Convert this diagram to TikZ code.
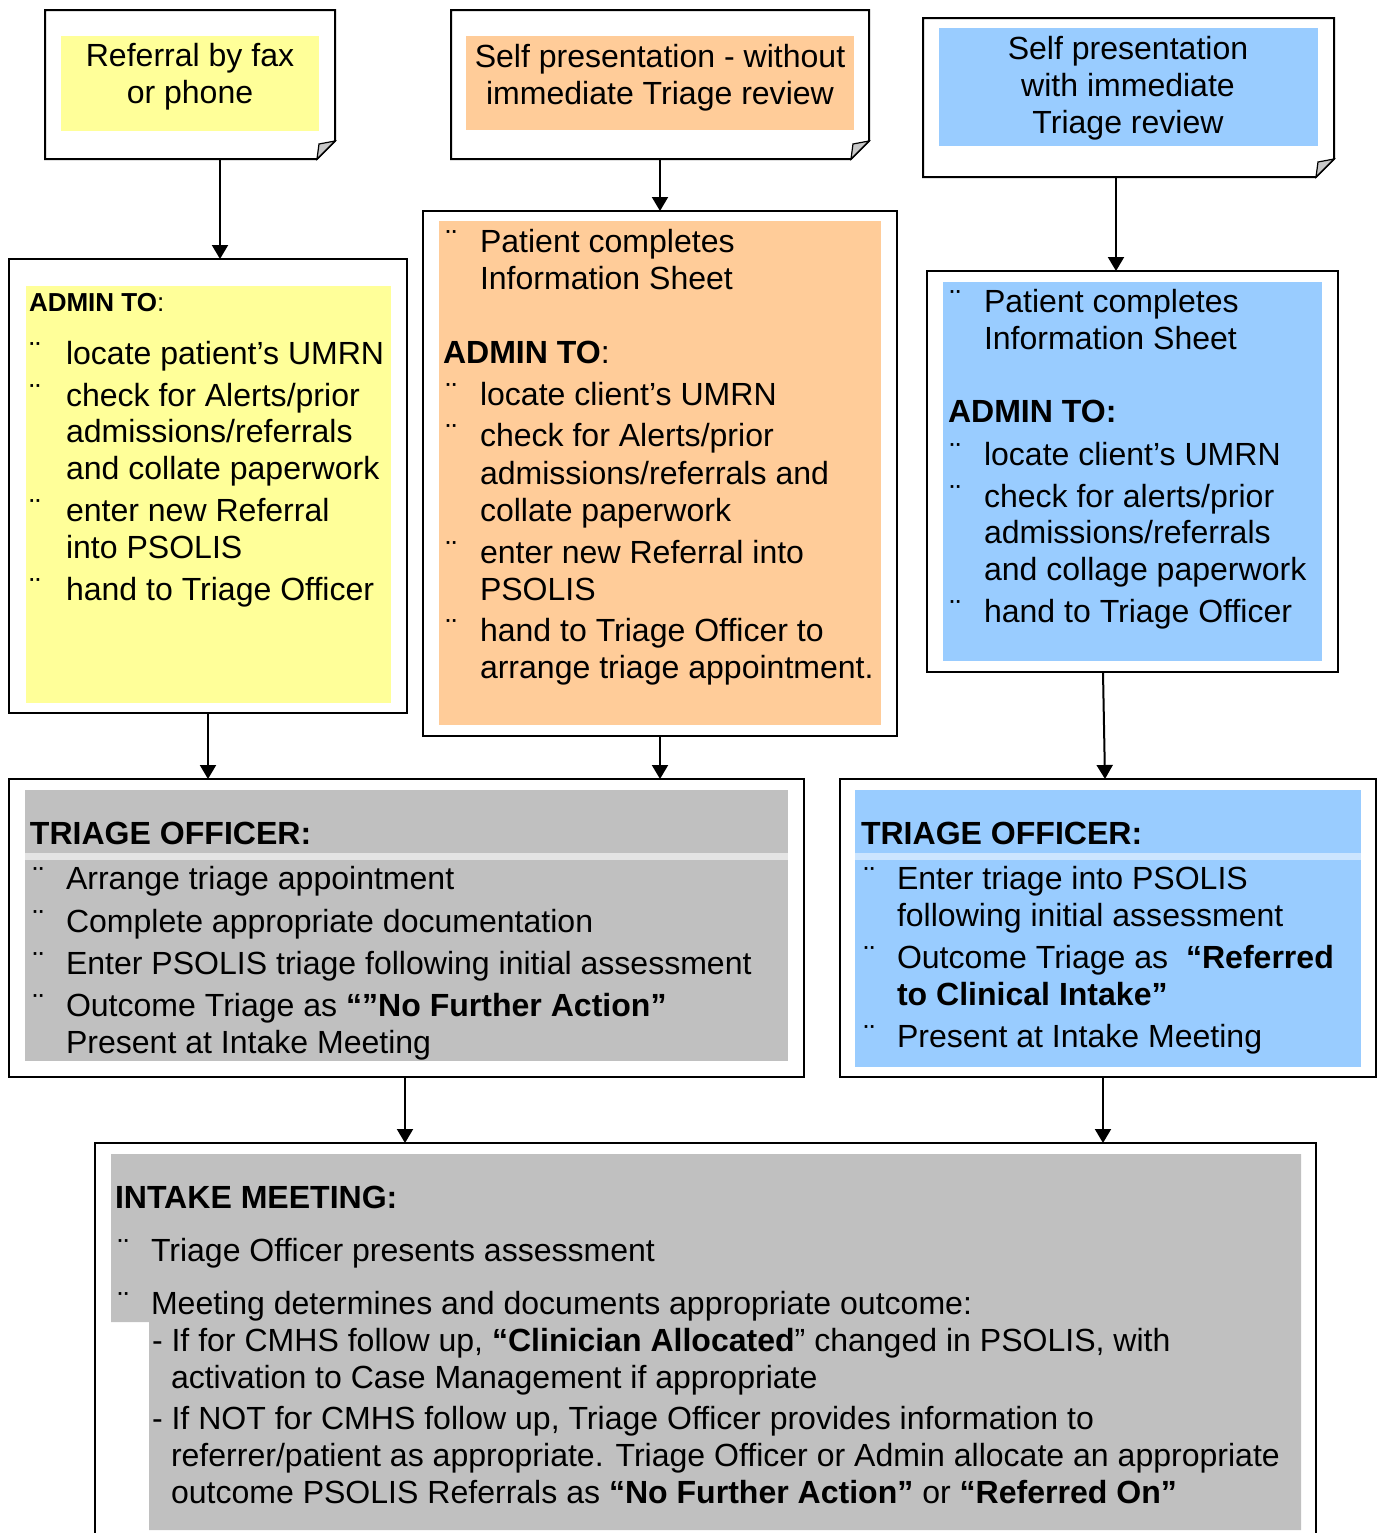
\documentclass[tikz,border=0pt]{standalone}
\usepackage{fontspec}
\setmainfont{Liberation Sans}
\usetikzlibrary{arrows.meta,fit}
\definecolor{yel}{HTML}{FFFF99}
\definecolor{ora}{HTML}{FFCC99}
\definecolor{blu}{HTML}{99CCFF}
\definecolor{gry}{HTML}{C0C0C0}
\definecolor{gryl}{HTML}{E4E4E4}
\definecolor{blul}{HTML}{CCE5FF}
\definecolor{foldg}{HTML}{C8C8C8}
\newcommand\txtline[4]{\node[txt] (#1) at (#2,#3) {#4};}
\newcommand\ctrline[4]{\node[ctr] (#1) at (#2,#3) {#4};}
\newcommand\bull[3]{\node[txt] (#1) at (#2,#3) {¨};}
\begin{document}
\begin{tikzpicture}[x=0.5pt,y=-0.5pt,
  txt/.style={inner sep=0pt, outer sep=0pt, anchor=base west, font=\fontsize{16.02}{18.4}\selectfont},
  ctr/.style={txt, anchor=base},
  smallbold/.style={txt, font=\fontsize{13}{15}\selectfont},
  box/.style={draw, line width=1pt, inner sep=0pt, outer sep=0pt},
  docbox/.style={inner sep=0pt, outer sep=0pt},
  arr/.style={line width=1pt, -{Triangle[length=7pt,width=8pt]}}]
\useasboundingbox (0,0) rectangle (1383,1533);
\clip (0,0) rectangle (1383,1533);
\fill[white] (0,0) rectangle (1383,1533);

% ---------- fills ----------
\fill[yel] (61,36) rectangle (319,131);
\fill[ora] (466,36) rectangle (854,130);
\fill[blu] (939,28) rectangle (1318,146);
\fill[yel] (26,286) rectangle (391,703);
\fill[ora] (439,221) rectangle (881,725);
\fill[blu] (943,282) rectangle (1322,661);
\fill[gry] (25,790) rectangle (788,1061);
\fill[gryl] (25,853) rectangle (788,860);
\fill[blu] (855,790) rectangle (1361,1067);
\fill[blul] (855,853) rectangle (1361,860);
\fill[gry] (111,1154) -- (1301,1154) -- (1301,1530) -- (149,1530) -- (149,1322) -- (111,1322) -- cycle;

% ---------- document boxes ----------
\node[docbox, fit={(45,10) (335,159)}] (d1) {};
\node[docbox, fit={(451,10) (869,159)}] (d2) {};
\node[docbox, fit={(923,18) (1334,177)}] (d3) {};
\foreach \d in {d1,d2,d3}{
  \draw[line width=1pt] (\d.north west) -- (\d.north east) -- ([yshift=9pt]\d.south east)
    -- ([xshift=-9pt]\d.south east) -- (\d.south west) -- cycle;
  \filldraw[fill=foldg, line width=0.6pt] ([xshift=-9pt]\d.south east) -- ([yshift=9pt]\d.south east)
    -- ([xshift=-8pt,yshift=7.5pt]\d.south east) -- cycle;
}

% ---------- boxes ----------
\node[box, fit={(9,259) (407,713)}] (a1) {};
\node[box, fit={(423,211) (897,736)}] (a2) {};
\node[box, fit={(927,271) (1338,672)}] (a3) {};
\node[box, fit={(9,779) (804,1077)}] (tL) {};
\node[box, fit={(840,779) (1376,1077)}] (tR) {};
\node[box, fit={(95,1143) (1316,1600)}] (im) {};

% ---------- titles ----------
\ctrline{d1a}{190}{66}{Referral by fax}
\ctrline{d1b}{190}{103}{or phone}
\ctrline{d2a}{660}{67}{Self presentation - without}
\ctrline{d2b}{660}{104}{immediate Triage review}
\ctrline{d3a}{1128}{59}{Self presentation}
\ctrline{d3b}{1128}{96}{with immediate}
\ctrline{d3c}{1128}{133}{Triage review}

% ---------- admin 1 ----------
\node[smallbold] (a1h) at (29,311) {\textbf{ADMIN TO}:};
\bull{a1b1}{30}{364}
\bull{a1b2}{30}{406}
\bull{a1b3}{30}{521}
\bull{a1b4}{30}{600}
\txtline{a1t1}{66}{364}{locate patient’s UMRN}
\txtline{a1t2}{66}{406}{check for Alerts/prior}
\txtline{a1t3}{66}{442}{admissions/referrals}
\txtline{a1t4}{66}{479}{and collate paperwork}
\txtline{a1t5}{66}{521}{enter new Referral}
\txtline{a1t6}{66}{558}{into PSOLIS}
\txtline{a1t7}{66}{600}{hand to Triage Officer}

% ---------- admin 2 ----------
\bull{a2b1}{446}{252}
\bull{a2b2}{446}{405}
\bull{a2b3}{446}{446}
\bull{a2b4}{446}{563}
\bull{a2b5}{446}{641}
\txtline{a2t1}{480}{252}{Patient completes}
\txtline{a2t2}{480}{289}{Information Sheet}
\txtline{a2h}{443}{363}{\textbf{ADMIN TO}:}
\txtline{a2t3}{480}{405}{locate client’s UMRN}
\txtline{a2t4}{480}{446}{check for Alerts/prior}
\txtline{a2t5}{480}{484}{admissions/referrals and}
\txtline{a2t6}{480}{521}{collate paperwork}
\txtline{a2t7}{480}{563}{enter new Referral into}
\txtline{a2t8}{480}{600}{PSOLIS}
\txtline{a2t9}{480}{641}{hand to Triage Officer to}
\txtline{a2t10}{480}{678}{arrange triage appointment.}

% ---------- admin 3 ----------
\bull{a3b1}{950}{312}
\bull{a3b2}{950}{465}
\bull{a3b3}{950}{507}
\bull{a3b4}{950}{622}
\txtline{a3t1}{984}{312}{Patient completes}
\txtline{a3t2}{984}{349}{Information Sheet}
\txtline{a3h}{948}{422}{\textbf{ADMIN TO:}}
\txtline{a3t3}{984}{465}{locate client’s UMRN}
\txtline{a3t4}{984}{507}{check for alerts/prior}
\txtline{a3t5}{984}{543}{admissions/referrals}
\txtline{a3t6}{984}{580}{and collage paperwork}
\txtline{a3t7}{984}{622}{hand to Triage Officer}

% ---------- triage left ----------
\txtline{tLh}{30}{844}{\textbf{TRIAGE OFFICER:}}
\bull{tLb1}{33}{889}
\bull{tLb2}{33}{932}
\bull{tLb3}{33}{974}
\bull{tLb4}{33}{1016}
\txtline{tLt1}{66}{889}{Arrange triage appointment}
\txtline{tLt2}{66}{932}{Complete appropriate documentation}
\txtline{tLt3}{66}{974}{Enter PSOLIS triage following initial assessment}
\txtline{tLt4}{66}{1016}{Outcome Triage as \textbf{“”No Further Action”}}
\txtline{tLt5}{66}{1053}{Present at Intake Meeting}

% ---------- triage right ----------
\txtline{tRh}{861}{844}{\textbf{TRIAGE OFFICER:}}
\bull{tRb1}{864}{889}
\bull{tRb2}{864}{968}
\bull{tRb3}{864}{1047}
\txtline{tRt1}{897}{889}{Enter triage into PSOLIS}
\txtline{tRt2}{897}{926}{following initial assessment}
\txtline{tRt3}{897}{968}{Outcome Triage as\ \ \textbf{“Referred}}
\txtline{tRt4}{897}{1005}{\textbf{to Clinical Intake”}}
\txtline{tRt5}{897}{1047}{Present at Intake Meeting}

% ---------- intake meeting ----------
\txtline{imh}{115}{1208}{\textbf{INTAKE MEETING:}}
\bull{imb1}{118}{1261}
\bull{imb2}{118}{1314}
\txtline{imt1}{151}{1261}{Triage Officer presents assessment}
\txtline{imt2}{151}{1314}{Meeting determines and documents appropriate outcome:}
\txtline{imt3}{152}{1351}{- If for CMHS follow up, \textbf{“Clinician Allocated}” changed in PSOLIS, with}
\txtline{imt4}{171}{1388}{activation to Case Management if appropriate}
\txtline{imt5}{152}{1429}{- If NOT for CMHS follow up, Triage Officer provides information to}
\txtline{imt6}{171}{1466}{referrer/patient as appropriate. Triage Officer or Admin allocate an appropriate}
\txtline{imt7}{171}{1503}{outcome PSOLIS Referrals as \textbf{“No Further Action”} or \textbf{“Referred On”}}

% ---------- connectors ----------
\draw[arr] ([xshift=15pt]d1.south) -- ([xshift=15pt]d1.south |- a1.north);
\draw[arr] (d2.south) -- (d2.south |- a2.north);
\draw[arr] ([xshift=-6.25pt]d3.south) -- ([xshift=-6.25pt]d3.south |- a3.north);
\draw[arr] (a1.south) -- (a1.south |- tL.north);
\draw[arr] (a2.south) -- (a2.south |- tL.north);
\draw[arr] ([xshift=-14.75pt]a3.south) -- ([xshift=-1.5pt]tR.north);
\draw[arr] ([xshift=-0.75pt]tL.south) -- ([xshift=-0.75pt]tL.south |- im.north);
\draw[arr] ([xshift=-2.5pt]tR.south) -- ([xshift=-2.5pt]tR.south |- im.north);
\end{tikzpicture}
\end{document}
